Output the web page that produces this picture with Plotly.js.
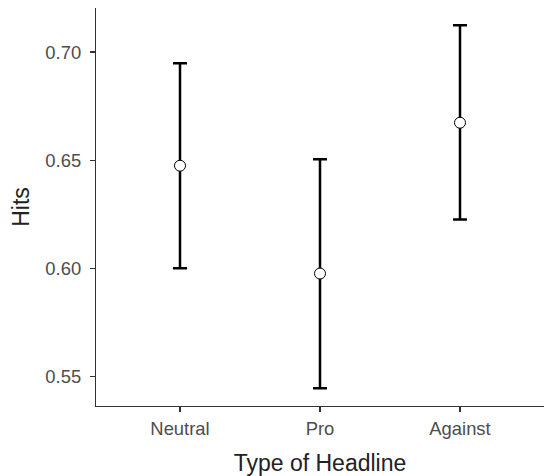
<!DOCTYPE html>
<html>
<head>
<meta charset="utf-8">
<script src="https://cdn.plot.ly/plotly-3.0.1.min.js"></script>
<style>html,body{margin:0;padding:0;background:#fff;}#chart{width:544px;height:476px;}</style>
</head>
<body>
<div id="chart"></div>
<script>
const categories = ["Neutral", "Pro", "Against"];
const hits = [0.6474, 0.5975, 0.6673];
const upper = [0.6948, 0.6504, 0.7124];
const lower = [0.6000, 0.5444, 0.6225];
const yTicks = [0.55, 0.60, 0.65, 0.70];
const yTickLabels = ["0.55", "0.60", "0.65", "0.70"];

const errPlus = hits.map((v, i) => upper[i] - v);
const errMinus = hits.map((v, i) => v - lower[i]);

const trace = {
  type: "scatter",
  mode: "markers",
  x: categories,
  y: hits,
  marker: {symbol: "circle", size: 11, color: "#ffffff", line: {color: "#000000", width: 1}},
  error_y: {type: "data", symmetric: false, array: errPlus, arrayminus: errMinus,
            color: "#000000", thickness: 2.5, width: 7},
  hoverinfo: "none",
  showlegend: false
};

const layout = {
  width: 544, height: 476,
  margin: {l: 96, r: 0, t: 8, b: 70, pad: 0},
  paper_bgcolor: "#ffffff", plot_bgcolor: "#ffffff",
  font: {family: "Liberation Sans, Arial, sans-serif", color: "#4d4d4d"},
  xaxis: {
    type: "category", range: [-0.6, 2.6],
    showgrid: false, zeroline: false,
    showline: true, linecolor: "#333333", linewidth: 1.2,
    ticks: "outside", ticklen: 5, tickcolor: "#333333", tickwidth: 1.2,
    ticklabelstandoff: 1,
    tickfont: {size: 18.4, color: "#4d4d4d"},
    title: {text: "Type of Headline", font: {size: 23, color: "#222222"}, standoff: 18}
  },
  yaxis: {
    range: [0.5362, 0.7204],
    tickvals: yTicks, ticktext: yTickLabels,
    showgrid: false, zeroline: false,
    showline: true, linecolor: "#333333", linewidth: 1.2,
    ticks: "outside", ticklen: 5, tickcolor: "#333333", tickwidth: 1.2,
    ticklabelstandoff: 5,
    tickfont: {size: 18.4, color: "#4d4d4d"},
    title: {text: "Hits", font: {size: 23, color: "#222222"}, standoff: 9}
  }
};

Plotly.newPlot("chart", [trace], layout, {staticPlot: true, displayModeBar: false});
</script>
</body>
</html>
